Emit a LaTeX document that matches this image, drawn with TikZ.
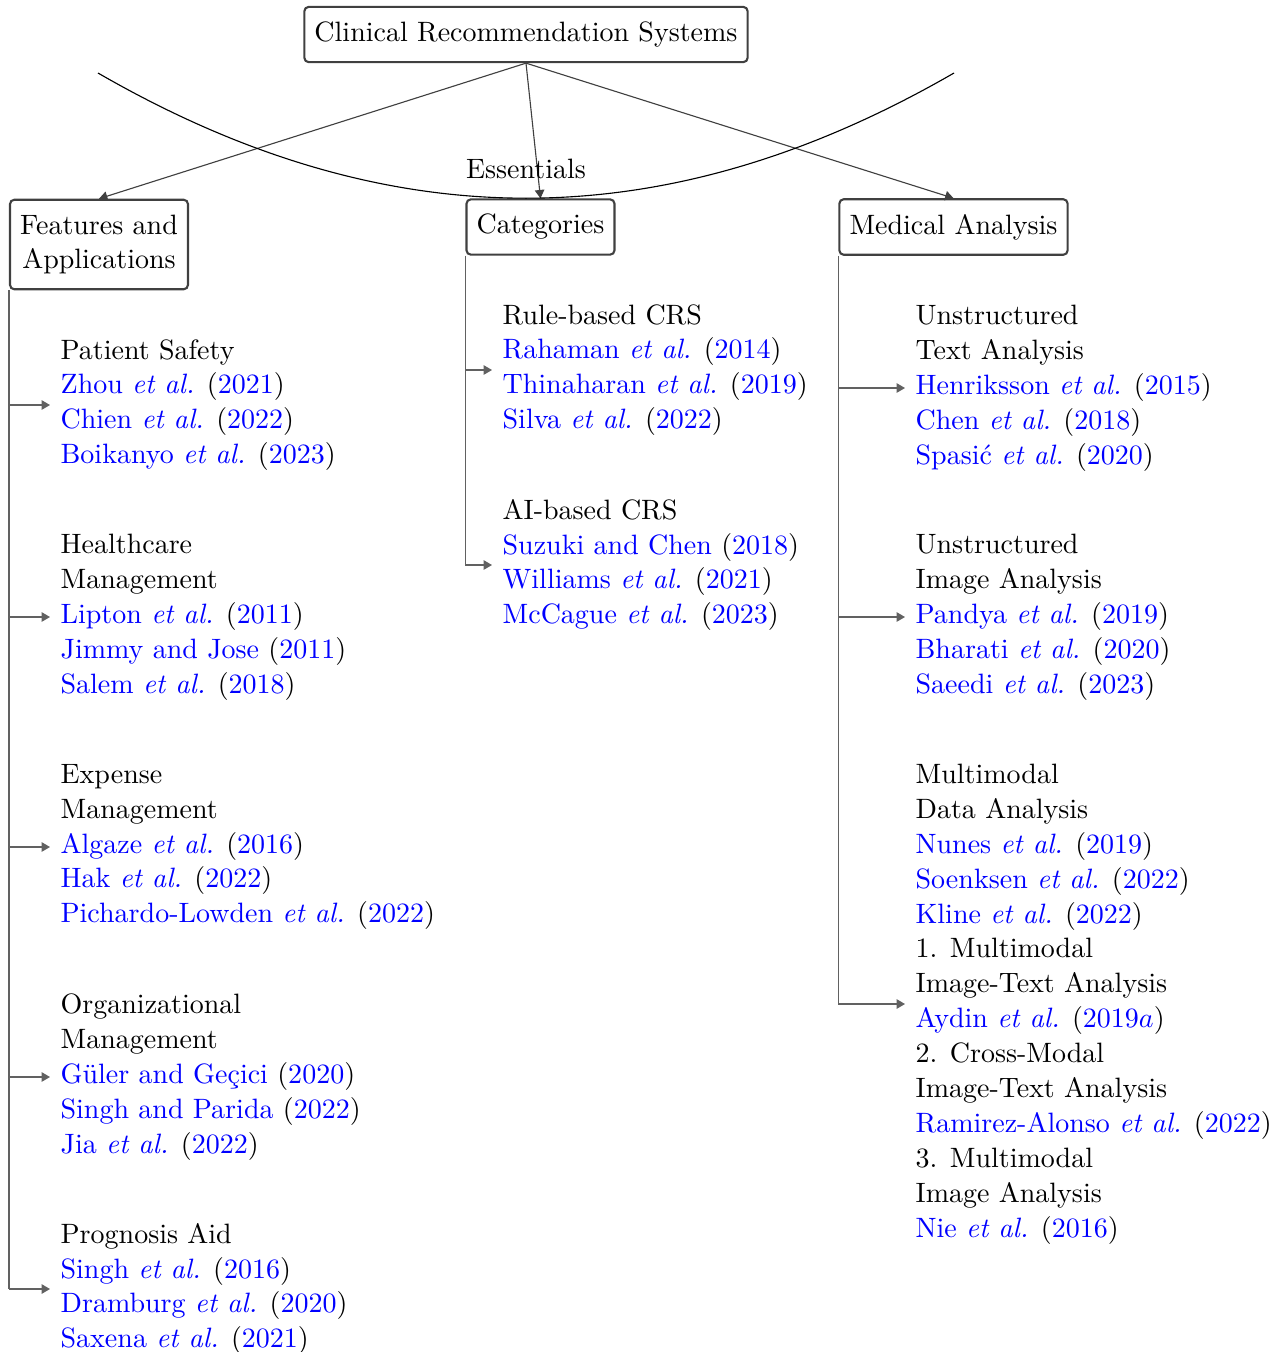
\documentclass[tikz,border=0pt]{standalone}
\usepackage{fontspec}
\usetikzlibrary{arrows.meta}
\newcommand{\cit}[2]{\textcolor{blue}{#1} (\textcolor{blue}{#2})}
\newcommand{\etal}{\textit{et al.}}
\begin{document}
\begin{tikzpicture}[x=0.3571pt, y=-0.3571pt,
  font=\fontsize{10}{12.46}\selectfont,
  box/.style={draw=black!75, line width=0.75pt, rounded corners=1.5pt,
    inner xsep=3.6pt, inner ysep=5.3pt, align=center},
  leaf/.style={anchor=west, align=left, inner sep=3.6pt},
  edge/.style={draw=black!75, line width=0.4pt, -{Triangle[length=3pt,width=3.4pt]}},
  trunk/.style={draw=black!62, line width=0.4pt},
  branch/.style={trunk, -{Triangle[length=3pt,width=3.4pt]}}]
\useasboundingbox (0,0) rectangle (1286,1352);

% top level
\node[box] (root) at (526,34.5) {Clinical Recommendation Systems};
\node[box] (feat) at (99,244.5) {Features and\\Applications};
\node[box] (cat) at (540.5,227) {Categories};
\node[box] (med) at (953.5,227) {Medical Analysis};

\draw[edge] (root.south) -- (feat.north);
\draw[edge] (root.south) -- (cat.north);
\draw[edge] (root.south) -- (med.north);

% the "Essentials" arc
\coordinate (arcL) at (98,73);
\coordinate (arcR) at (954,73);
\draw[black, line width=0.4pt] (arcL) to[bend right=30]
  node[midway, above, yshift=3.4pt] (ess) {Essentials} (arcR);

% Features and Applications
\node[leaf] (f1) at (50,405) {Patient Safety\\\cit{Zhou \etal}{2021}\\\cit{Chien \etal}{2022}\\\cit{Boikanyo \etal}{2023}};
\node[leaf] (f2) at (50,617) {Healthcare\\Management\\\cit{Lipton \etal}{2011}\\\cit{Jimmy and Jose}{2011}\\\cit{Salem \etal}{2018}};
\node[leaf] (f3) at (50,847) {Expense\\Management\\\cit{Algaze \etal}{2016}\\\cit{Hak \etal}{2022}\\\cit{Pichardo-Lowden \etal}{2022}};
\node[leaf] (f4) at (50,1077) {Organizational\\Management\\\cit{Güler and Geçici}{2020}\\\cit{Singh and Parida}{2022}\\\cit{Jia \etal}{2022}};
\node[leaf] (f5) at (50,1289) {Prognosis Aid\\\cit{Singh \etal}{2016}\\\cit{Dramburg \etal}{2020}\\\cit{Saxena \etal}{2021}};

\draw[trunk] (feat.south west) -- (feat.south west |- f5.west);
\foreach \n in {f1,f2,f3,f4,f5}
  \draw[branch] (feat.south west |- \n.west) -- (\n.west);

% Categories
\node[leaf] (c1) at (492,370) {Rule-based CRS\\\cit{Rahaman \etal}{2014}\\\cit{Thinaharan \etal}{2019}\\\cit{Silva \etal}{2022}};
\node[leaf] (c2) at (492,565) {AI-based CRS\\\cit{Suzuki and Chen}{2018}\\\cit{Williams \etal}{2021}\\\cit{McCague \etal}{2023}};

\draw[trunk] (cat.south west) -- (cat.south west |- c2.west);
\foreach \n in {c1,c2}
  \draw[branch] (cat.south west |- \n.west) -- (\n.west);

% Medical Analysis
\node[leaf] (m1) at (905,388) {Unstructured\\Text Analysis\\\cit{Henriksson \etal}{2015}\\\cit{Chen \etal}{2018}\\\cit{Spasić \etal}{2020}};
\node[leaf] (m2) at (905,617) {Unstructured\\Image Analysis\\\cit{Pandya \etal}{2019}\\\cit{Bharati \etal}{2020}\\\cit{Saeedi \etal}{2023}};
\node[leaf] (m3) at (905,1004) {Multimodal\\Data Analysis\\\cit{Nunes \etal}{2019}\\\cit{Soenksen \etal}{2022}\\\cit{Kline \etal}{2022}\\1. Multimodal\\Image-Text Analysis\\\cit{Aydin \etal}{2019$a$}\\2. Cross-Modal\\Image-Text Analysis\\\cit{Ramirez-Alonso \etal}{2022}\\3. Multimodal\\Image Analysis\\\cit{Nie \etal}{2016}};

\draw[trunk] (med.south west) -- (med.south west |- m3.west);
\foreach \n in {m1,m2,m3}
  \draw[branch] (med.south west |- \n.west) -- (\n.west);
\end{tikzpicture}
\end{document}
